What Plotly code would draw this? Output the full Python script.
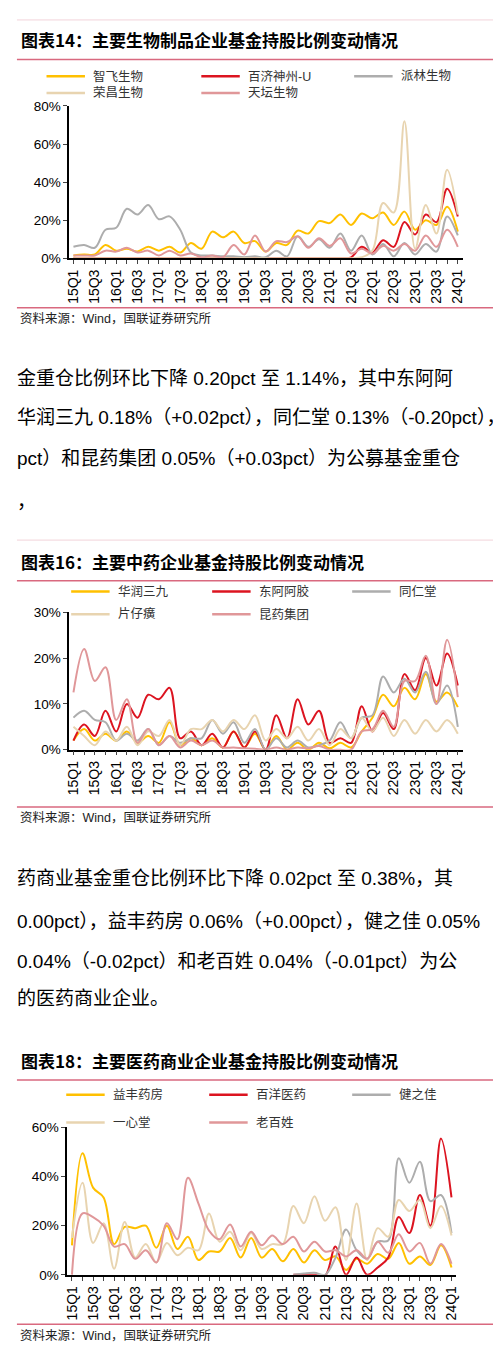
import plotly.graph_objects as go

H = 1347
W = 501

quarters = [f"{y}Q{q}" for y in range(15, 25) for q in range(1, 5)][:37]

# chart 14: biological products (%)
zhifei = [1.5, 2, 2, 7, 4, 5, 3.5, 6, 4, 6, 3, 8, 5, 14, 11, 14, 8, 9, 3.5, 8, 7, 14.5, 13, 19.5,
          18.5, 23, 17.5, 23.5, 21, 24, 17.5, 24.5, 15, 20, 17.5, 27, 14]
baiji = [0] * 26 + [0.5, 6, 3, 9.5, 6, 19, 12.5, 23, 19, 36.5, 22]
pailin = [6, 7, 5.5, 15, 16, 26, 23, 28, 20.5, 22, 15, 3, 1.5, 1.5, 1, 1, 0.5, 1, 0.5, 4, 1, 11.5,
          6, 10, 5.5, 13, 4, 12, 2, 7.5, 1, 8, 2, 7.5, 3.5, 22, 12]
rongchang = [0] * 27 + [0.5, 4, 29, 24, 72, 5, 28, 13, 46.5, 23]
tiantan = [1.5, 1.5, 1.5, 4, 3.5, 5.5, 3, 4, 1.5, 4, 1.5, 2.5, 0.5, 1.5, 0.5, 7, 2, 12, 3.5, 9,
           8.5, 11.5, 5.5, 10.5, 6.5, 10.5, 2.5, 5, 2.5, 6.5, 4, 7.5, 4, 12, 6, 15, 6]

# chart 16: TCM (%)
huarun = [2, 4.5, 2, 3.5, 2, 4, 1.5, 3, 1.5, 6, 1, 2.5, 1, 2.5, 0.5, 4, 0.5, 3.5, 0, 3, 0, 1.5,
          0, 1.5, 0.3, 1.5, 0.5, 4, 7, 12, 9.5, 13.5, 11, 16.5, 10.5, 12.5, 9.3]
dongae = [2, 5.5, 3, 8.5, 4, 10, 7, 12, 11, 13.5, 2.5, 4, 1, 3.5, 0.5, 4, 0.5, 4, 0, 7.5, 2.5, 11,
          5.5, 8.5, 1.5, 2.5, 1.5, 9.5, 4, 8, 4.5, 16.5, 13, 20, 14, 21, 14]
tongren = [7, 8.5, 6.5, 6, 2, 3.5, 2, 4.5, 1, 3, 1.5, 2.5, 2.5, 6.5, 3.5, 6, 1.5, 4.5, 0, 2.5,
           0.5, 2, 0.5, 1, 2, 6, 2.5, 7, 7.5, 16, 12.5, 15.5, 12.5, 17, 10, 14, 5]
pianzai = [5, 3, 1, 4, 2, 5, 1, 4, 3, 6.5, 1, 4.5, 4.5, 6.5, 4, 6.5, 4.5, 7.5, 2, 4.5, 2.5, 5, 2,
           4.5, 1, 4.5, 2.5, 7, 4, 7, 3, 6.5, 3.5, 6.5, 4, 6.5, 3.5]
kunyao = [12.5, 22, 15, 18, 6.5, 11, 1.5, 4.5, 1, 3, 0.5, 2, 1, 2, 0.5, 0.5, 0.3, 0.2, 0, 0.5, 0,
          0.5, 0.3, 0.8, 0, 0, 0, 4, 4.5, 8.5, 5, 15, 15, 20.5, 10, 24, 11.5]

# chart 18: pharma retail (%)
yifeng = [12, 49.5, 35.5, 31.5, 12.5, 19.5, 19, 20, 11, 20, 10.5, 15.5, 6, 9.5, 9.5, 15, 7, 15, 7,
          10.5, 5.5, 10.5, 5, 10, 6, 7.5, 2, 6.5, 4.5, 8.5, 6.5, 13, 4.5, 7.5, 4, 12, 3]
baiyang = [None] * 21 + [0, 0, 0, -0.5, 11.5, 0, 7, 0, 3, 7, 23.5, 17, 32.5, 20, 55.5, 31.5]
jianzhijia = [None] * 21 + [0, 0.5, 0.8, 0, 7, 18.5, 10, 6.5, 13.5, 14, 47.5, 37.5, 46, 30, 32.5, 17]
yixintang = [15, 37.5, 13, 21, 2.5, 21.5, 7, 12.5, 5, 13, 8, 11, 10, 25, 13.5, 17.5, 10, 17, 10.5,
             12.5, 12.5, 28, 21, 32, 22, 27.5, 6, 29, 6, 19, 15.5, 30.5, 26, 30.5, 19, 28, 16]
laobaixing = [0, 25, 23.5, 20, 11.5, 12.5, 6.5, 10, 5, 21, 14.5, 39.5, 29, 18, 14.5, 20.5, 11.5,
              17.5, 12, 16, 12.5, 15.5, 9.5, 13.5, 9.5, 10, 7.5, 10, 6.5, 13.5, 9, 16.5, 9.5, 13,
              4.5, 12.5, 4.5]

YELLOW = "#FFC000"
RED = "#DC1420"
GRAY = "#ADADAD"
BEIGE = "#E8D4B0"
PINK = "#E09799"
LINEC = "#D9697F"
FONT = "Liberation Sans, Noto Sans CJK SC"


def py(p):
    return 1 - p / H


charts = [
    dict(title="图表14：主要生物制品企业基金持股比例变动情况",
         series=[("智飞生物", zhifei, YELLOW), ("百济神州-U", baiji, RED), ("派林生物", pailin, GRAY),
                 ("荣昌生物", rongchang, BEIGE), ("天坛生物", tiantan, PINK)],
         top=5, title_y=25, line1=45, legend=[(62, 79), (35, 192, 347)], yr=(92, 246),
         ymax=80, dtick=20, xd=(58, 457), xr=(-0.4, 36.45), src_line=296, src=307),
    dict(title="图表16：主要中药企业基金持股比例变动情况",
         series=[("华润三九", huarun, YELLOW), ("东阿阿胶", dongae, RED), ("同仁堂", tongren, GRAY),
                 ("片仔癀", pianzai, BEIGE), ("昆药集团", kunyao, PINK)],
         top=531, title_y=553, line1=572, legend=[(583, 606), (60, 203, 345)], yr=(604, 743),
         ymax=30, dtick=10, xd=(58, 457), xr=(-0.4, 36.45), src_line=801, src=812),
    dict(title="图表18：主要医药商业企业基金持股比例变动情况",
         series=[("益丰药房", yifeng, YELLOW), ("百洋医药", baiyang, RED), ("健之佳", jianzhijia, GRAY),
                 ("一心堂", yixintang, BEIGE), ("老百姓", laobaixing, PINK)],
         top=None, title_y=1057, line1=1077, legend=[(1092, 1120), (55, 200, 345)], yr=(1125, 1274),
         ymax=60, dtick=20, xd=(56, 450), xr=(-0.45, 36.4), src_line=1324, src=1335),
]

fig = go.Figure()
shapes = []
annotations = []
ticktext = [q if i % 2 == 0 else "" for i, q in enumerate(quarters)]

for k, c in enumerate(charts):
    n = "" if k == 0 else str(k + 1)
    for name, vals, col in c["series"]:
        fig.add_trace(go.Scatter(x=quarters, y=vals, mode="lines", name=name, showlegend=False,
                                 line=dict(color=col, width=2, shape="spline", smoothing=1),
                                 xaxis="x" + n, yaxis="y" + n))
    fig.layout["xaxis" + n] = dict(domain=[c["xd"][0] / W, c["xd"][1] / W], anchor="y" + n,
                                   type="category", range=list(c["xr"]), tickvals=quarters,
                                   ticktext=ticktext, tickangle=-90, ticks="outside", ticklen=4,
                                   showline=True, linecolor="black", linewidth=1.5, showgrid=False,
                                   tickfont=dict(family=FONT, size=14, color="black"))
    fig.layout["yaxis" + n] = dict(domain=[py(c["yr"][1]), py(c["yr"][0])], anchor="x" + n,
                                   range=[0, c["ymax"]], dtick=c["dtick"], ticksuffix="%",
                                   ticks="outside", ticklen=4, showline=True, linecolor="black",
                                   linewidth=1.5, showgrid=False, zeroline=False,
                                   tickfont=dict(family=FONT, size=13.5, color="black"))
    if c["top"] is not None:
        shapes.append(dict(type="line", xref="paper", yref="paper", x0=0.01, x1=0.99,
                           y0=py(c["top"]), y1=py(c["top"]), line=dict(color="#F2D3DA", width=1)))
    for yy in (c["line1"], c["src_line"]):
        shapes.append(dict(type="line", xref="paper", yref="paper", x0=0.01, x1=0.99,
                           y0=py(yy), y1=py(yy), line=dict(color=LINEC, width=1.5)))
    annotations.append(dict(text="<b>" + c["title"] + "</b>", x=7 / W, y=py(c["title_y"]),
                            xref="paper", yref="paper", xanchor="left", yanchor="middle",
                            showarrow=False, font=dict(family="Noto Sans CJK SC", size=17, color="black")))
    annotations.append(dict(text="资料来源：Wind，国联证券研究所", x=6 / W, y=py(c["src"]),
                            xref="paper", yref="paper", xanchor="left", yanchor="middle",
                            showarrow=False, font=dict(family=FONT, size=12.5, color="#222")))
    rows, cols = c["legend"]
    for j, (name, vals, col) in enumerate(c["series"]):
        ry = rows[j // 3]
        cx = cols[j % 3]
        shapes.append(dict(type="line", xref="paper", yref="paper", x0=cx / W, x1=(cx + 39) / W,
                           y0=py(ry), y1=py(ry), line=dict(color=col, width=2.5)))
        annotations.append(dict(text=name, x=(cx + 45) / W, y=py(ry), xref="paper", yref="paper",
                                xanchor="left", yanchor="middle", showarrow=False,
                                font=dict(family=FONT, size=12.5, color="#333")))

body = [
    (368, "金重仓比例环比下降 0.20pct 至 1.14%，其中东阿阿"),
    (407, "华润三九 0.18%（+0.02pct），同仁堂 0.13%（-0.20pct），"),
    (448, "pct）和昆药集团 0.05%（+0.03pct）为公募基金重仓"),
    (492, "，"),
    (873, "药商业基金重仓比例环比下降 0.02pct 至 0.38%，其"),
    (917, "0.00pct），益丰药房 0.06%（+0.00pct），健之佳 0.05%"),
    (957, "0.04%（-0.02pct）和老百姓 0.04%（-0.01pct）为公"),
    (995, "的医药商业企业。"),
]
for yy, t in body:
    annotations.append(dict(text=t, x=3 / W, y=py(yy), xref="paper", yref="paper",
                            xanchor="left", yanchor="middle", showarrow=False,
                            font=dict(family=FONT, size=19, color="black")))

fig.update_layout(width=W, height=H, margin=dict(l=0, r=0, t=0, b=0), paper_bgcolor="white",
                  plot_bgcolor="white", shapes=shapes, annotations=annotations)
fig.write_html("out.html")
